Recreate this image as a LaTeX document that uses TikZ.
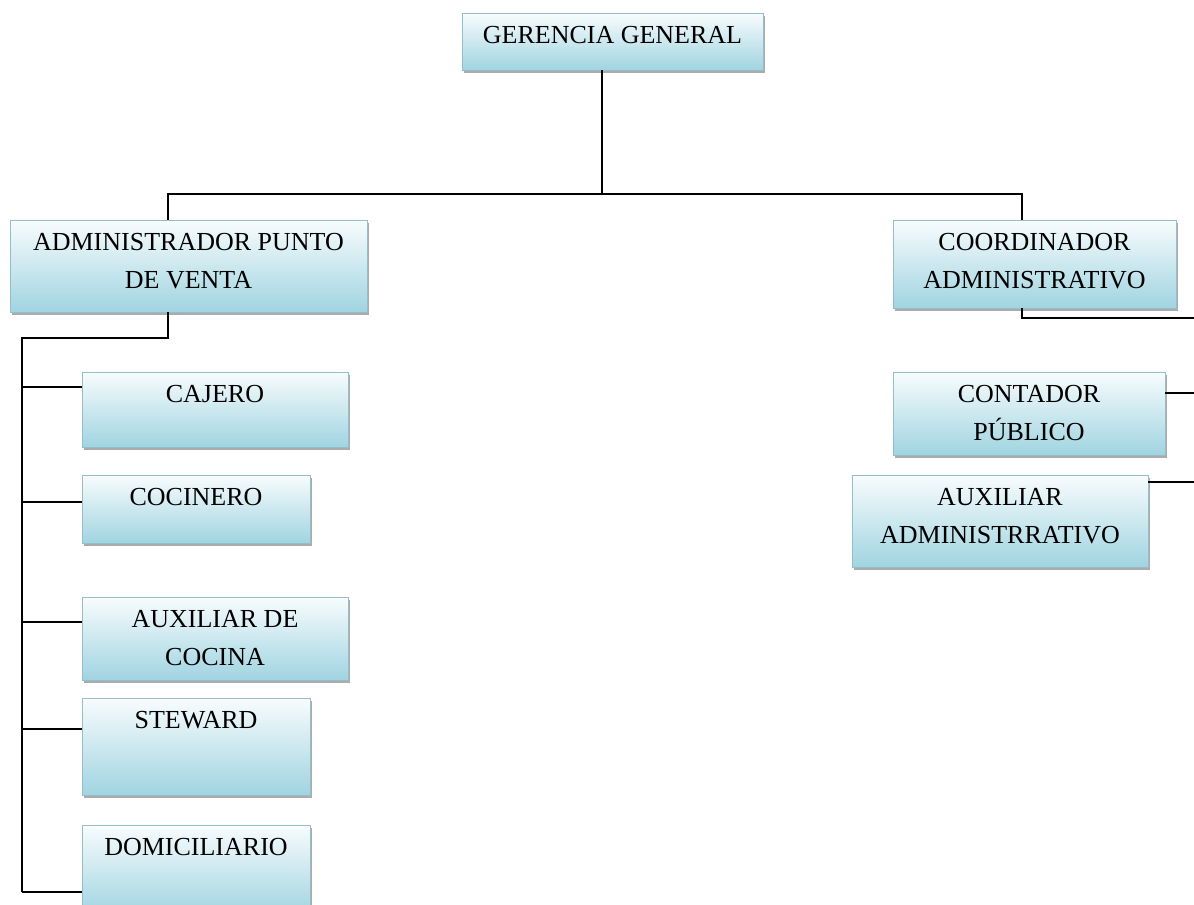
\documentclass[tikz,border=0pt]{standalone}
\usepackage{fontspec}
\setmainfont{Liberation Serif}
\usetikzlibrary{shadows}
\definecolor{boxtop}{RGB}{248,252,253}
\definecolor{boxbottom}{RGB}{160,212,225}
\definecolor{boxline}{RGB}{150,190,200}
\tikzset{
  orgbox/.style={rectangle, draw=boxline, line width=0.6pt, top color=boxtop, bottom color=boxbottom, inner sep=0pt,
    drop shadow={shadow xshift=1.8pt, shadow yshift=-2pt, fill=black!60, opacity=0.55}},
  boxw/.style={minimum width=#1*0.75pt},
  boxh/.style={minimum height=#1*0.75pt},
  boxtxt/.style={anchor=north, inner xsep=0pt, inner ysep=10pt, align=center, font=\fontsize{19.5}{28.5}\selectfont},
  link/.style={line width=1.1pt}
}
\begin{document}
\begin{tikzpicture}[x=0.75pt,y=0.75pt,yscale=-1,xscale=1]
\useasboundingbox (0,0) rectangle (1194,904);
\fill[white] (0,0) rectangle (1194,904);

%Shape: Rectangle [gerencia]
\node[orgbox, boxw=301, boxh=57] (gg) at (612.5,41.5) {};
\node[boxtxt] (gg-t) at (gg.north) {GERENCIA GENERAL};

%Shape: Rectangle [administrador]
\node[orgbox, boxw=357, boxh=92] (admin) at (188.5,266) {};
\node[boxtxt] (admin-t) at (admin.north) {ADMINISTRADOR PUNTO\\DE VENTA};
%Shape: Rectangle [coordinador]
\node[orgbox, boxw=283, boxh=88] (coord) at (1034.5,264) {};
\node[boxtxt] (coord-t) at (coord.north) {COORDINADOR\\ADMINISTRATIVO};

%Shape: Rectangle [punto de venta]
\node[orgbox, boxw=266, boxh=75] (cajero) at (215,409.5) {};
\node[boxtxt] (cajero-t) at (cajero.north) {CAJERO};
\node[orgbox, boxw=228, boxh=68] (cocinero) at (196,509) {};
\node[boxtxt] (cocinero-t) at (cocinero.north) {COCINERO};
\node[orgbox, boxw=266, boxh=83] (auxcoc) at (215,638.5) {};
\node[boxtxt] (auxcoc-t) at (auxcoc.north) {AUXILIAR DE\\COCINA};
\node[orgbox, boxw=228, boxh=97] (steward) at (196,746.5) {};
\node[boxtxt] (steward-t) at (steward.north) {STEWARD};
\node[orgbox, boxw=228, boxh=90] (domic) at (196,870) {};
\node[boxtxt] (domic-t) at (domic.north) {DOMICILIARIO};

%Shape: Rectangle [administrativo]
\node[orgbox, boxw=272, boxh=83] (contador) at (1029,413.5) {};
\node[boxtxt] (contador-t) at (contador.north) {CONTADOR\\PÚBLICO};
\node[orgbox, boxw=296, boxh=92] (auxadm) at (1000,521) {};
\node[boxtxt] (auxadm-t) at (auxadm.north) {AUXILIAR\\ADMINISTRRATIVO};

\coordinate (busM) at (602,194);
\coordinate (busL) at (168,194);
\coordinate (busR) at (1022,194);
\coordinate (spine) at (22,338);
\coordinate (rbus) at (1194,318);

%Straight Lines
\draw[link] (gg.south -| busM) -- (busM);
\draw[link] (admin.north -| busL) -- (busL) -- (busR) -- (coord.north -| busR);
%Straight Lines
\draw[link] (admin.south -| busL) |- (spine) -- (spine |- 0,892);
\foreach \b/\y in {cajero/387,cocinero/502,auxcoc/622,steward/729,domic/892}
  \draw[link] (spine |- 0,\y) -- (\b.west |- 0,\y);
%Straight Lines
\draw[link] (coord.south -| busR) |- (rbus);
\draw[link] (contador.east |- 0,393) -- (rbus |- 0,393);
\draw[link] (auxadm.east |- 0,482) -- (rbus |- 0,482);

\end{tikzpicture}
\end{document}
